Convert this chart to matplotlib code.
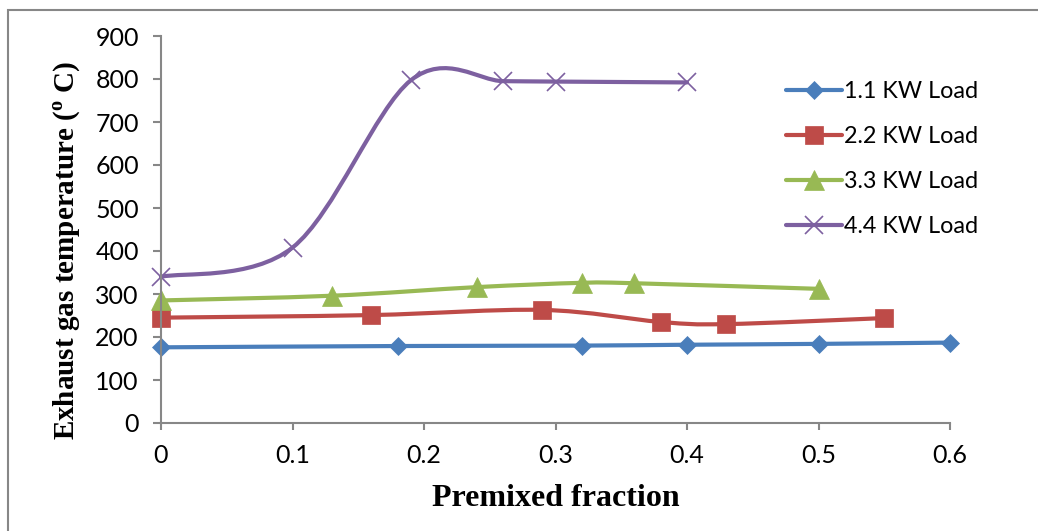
import numpy as np
import matplotlib
matplotlib.use('Agg')
import matplotlib.pyplot as plt
from matplotlib.path import Path
from matplotlib.patches import PathPatch, Rectangle
from matplotlib.lines import Line2D

# ---- data ----
labels = ['1.1 KW Load', '2.2 KW Load', '3.3 KW Load', '4.4 KW Load']

x_11 = [0, 0.18, 0.32, 0.40, 0.50, 0.60]
y_11 = [176, 179, 180, 182, 184, 187]

x_22 = [0, 0.16, 0.29, 0.38, 0.43, 0.55]
y_22 = [245, 251, 263, 235, 230, 244]

x_33 = [0, 0.13, 0.24, 0.32, 0.36, 0.50]
y_33 = [285, 296, 316, 326, 325, 312]

x_44 = [0, 0.10, 0.19, 0.26, 0.30, 0.40]
y_44 = [340, 408, 797, 795, 794, 792]

x_ticks = [0, 0.1, 0.2, 0.3, 0.4, 0.5, 0.6]
y_ticks = [0, 100, 200, 300, 400, 500, 600, 700, 800, 900]

colors = ['#4A7EBB', '#BE4B48', '#98B954', '#7D60A0']
markers = ['D', 's', '^', 'x']
msizes = [9.5, 13, 14, 13]

plt.rcParams['mathtext.fontset'] = 'custom'
plt.rcParams['mathtext.rm'] = 'Liberation Serif:bold'
plt.rcParams['mathtext.bf'] = 'Liberation Serif:bold'


def smooth_path(xs, ys):
    """Excel-like smoothed line: cubic Bezier through every point."""
    px = [xs[0]] + list(xs) + [xs[-1]]
    py = [ys[0]] + list(ys) + [ys[-1]]
    verts = [(xs[0], ys[0])]
    codes = [Path.MOVETO]
    for i in range(1, len(px) - 2):
        c1 = (px[i] + (px[i + 1] - px[i - 1]) / 6, py[i] + (py[i + 1] - py[i - 1]) / 6)
        c2 = (px[i + 1] - (px[i + 2] - px[i]) / 6, py[i + 1] - (py[i + 2] - py[i]) / 6)
        verts += [c1, c2, (px[i + 1], py[i + 1])]
        codes += [Path.CURVE4] * 3
    return Path(verts, codes)


fig = plt.figure(figsize=(10.38, 5.31), dpi=100)
ax = fig.add_axes([161 / 1038, 1 - 423 / 531, 789 / 1038, 387 / 531])

series = [(x_11, y_11), (x_22, y_22), (x_33, y_33), (x_44, y_44)]
handles = []
for (xs, ys), c, m, ms, lab in zip(series, colors, markers, msizes, labels):
    ax.add_patch(PathPatch(smooth_path(xs, ys), fill=False, edgecolor=c,
                           lw=3, capstyle='round', joinstyle='round', clip_on=False))
    mew = 1.2 if m == 'x' else 0.5
    ax.plot(xs, ys, ls='none', marker=m, ms=ms, color=c, mec=c, mew=mew, clip_on=False)
    handles.append(Line2D([], [], color=c, lw=3, marker=m, ms=ms, mec=c, mew=mew,
                          solid_capstyle='round'))

ax.set_xlim(0, 0.6)
ax.set_ylim(0, 900)
ax.set_xticks(x_ticks)
ax.set_xticklabels(['0', '0.1', '0.2', '0.3', '0.4', '0.5', '0.6'])
ax.set_yticks(y_ticks)
for s in ['top', 'right']:
    ax.spines[s].set_visible(False)
for s in ['left', 'bottom']:
    ax.spines[s].set_color('#878787')
    ax.spines[s].set_linewidth(1.5)
ax.tick_params(axis='both', colors='#878787', width=1.5, labelcolor='black',
               labelsize=18, direction='out')
ax.tick_params(axis='y', length=6, pad=10)
ax.tick_params(axis='x', length=5, pad=10)
for t in ax.get_xticklabels() + ax.get_yticklabels():
    t.set_family('Lato')

leg = fig.legend(handles, labels, loc='center left',
                 bbox_to_anchor=(786 / 1038, 1 - 159 / 531),
                 frameon=False, prop={'family': 'Lato', 'size': 16.8},
                 handlelength=2.4, handletextpad=0.08, labelspacing=1.02,
                 borderpad=0, borderaxespad=0)

fig.text(67 / 1038, 1 - 250 / 531, r'Exhaust gas temperature ($^{\rm o}$ C)',
         rotation=90, ha='center', va='center', family='Liberation Serif',
         weight='bold', size=21)
fig.text(556 / 1038, 1 - 498 / 531, 'Premixed fraction', ha='center', va='center',
         family='Liberation Serif', weight='bold', size=23)

fig.patches.append(Rectangle((7.5 / 1038, -0.1), 1.2, 1 - 10 / 531 + 0.1,
                             transform=fig.transFigure, fill=False,
                             edgecolor='#878787', lw=1.5))

fig.savefig('out.png', dpi=100)
